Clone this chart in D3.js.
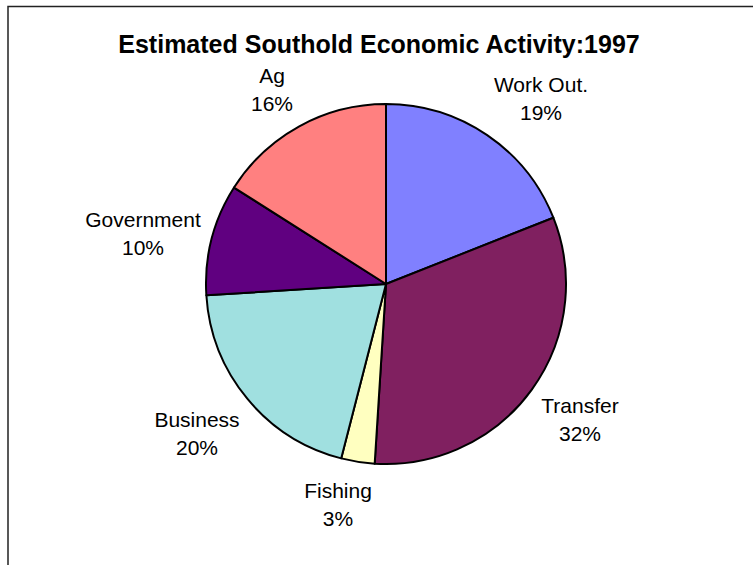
<!DOCTYPE html>
<html><head><meta charset="utf-8">
<script src="https://cdn.jsdelivr.net/npm/d3@7"></script>
<style>html,body{margin:0;padding:0;background:#fff;overflow:hidden}</style>
</head><body>
<script>
const categories = ["Work Out.", "Transfer", "Fishing", "Business", "Government", "Ag"];
const values = [19, 32, 3, 20, 10, 16];
const colors = ["#8080FF", "#802060", "#FFFFC0", "#A0E0E0", "#600080", "#FF8080"];
const labelPos = [[541, 92], [580, 413], [338, 498], [197, 427], [143, 227], [272, 83]];
const title = "Estimated Southold Economic Activity:1997";

const W = 753, H = 565;
const svg = d3.select("body").append("svg").attr("width", W).attr("height", H);
svg.append("rect").attr("x", 8).attr("y", 6.5).attr("width", 800).attr("height", 700)
  .attr("fill", "#fff").attr("stroke", "#222").attr("stroke-width", 1.5);

svg.append("text").attr("x", 379).attr("y", 53).attr("text-anchor", "middle")
  .attr("font-family", "Liberation Sans, Arial, sans-serif").attr("font-weight", "bold")
  .attr("font-size", 25).text(title);

const cx = 386, cy = 284, r = 180;
const data = categories.map((c, i) => ({cat: c, value: values[i], color: colors[i], lp: labelPos[i]}));
const pie = d3.pie().sort(null).value(d => d.value);
const arc = d3.arc().innerRadius(0).outerRadius(r);
const total = d3.sum(values);
const g = svg.append("g").attr("transform", `translate(${cx},${cy})`);
g.selectAll("path").data(pie(data)).join("path")
  .attr("d", arc).attr("fill", d => d.data.color)
  .attr("stroke", "#000").attr("stroke-width", 2).attr("stroke-linejoin", "round");

const lbl = svg.append("g").attr("font-family", "Liberation Sans, Arial, sans-serif")
  .attr("font-size", 21).attr("fill", "#000").attr("text-anchor", "middle");
data.forEach(d => {
  lbl.append("text").attr("x", d.lp[0]).attr("y", d.lp[1]).text(d.cat);
  lbl.append("text").attr("x", d.lp[0]).attr("y", d.lp[1] + 28)
    .text(Math.round(d.value / total * 100) + "%");
});
</script>
</body></html>
